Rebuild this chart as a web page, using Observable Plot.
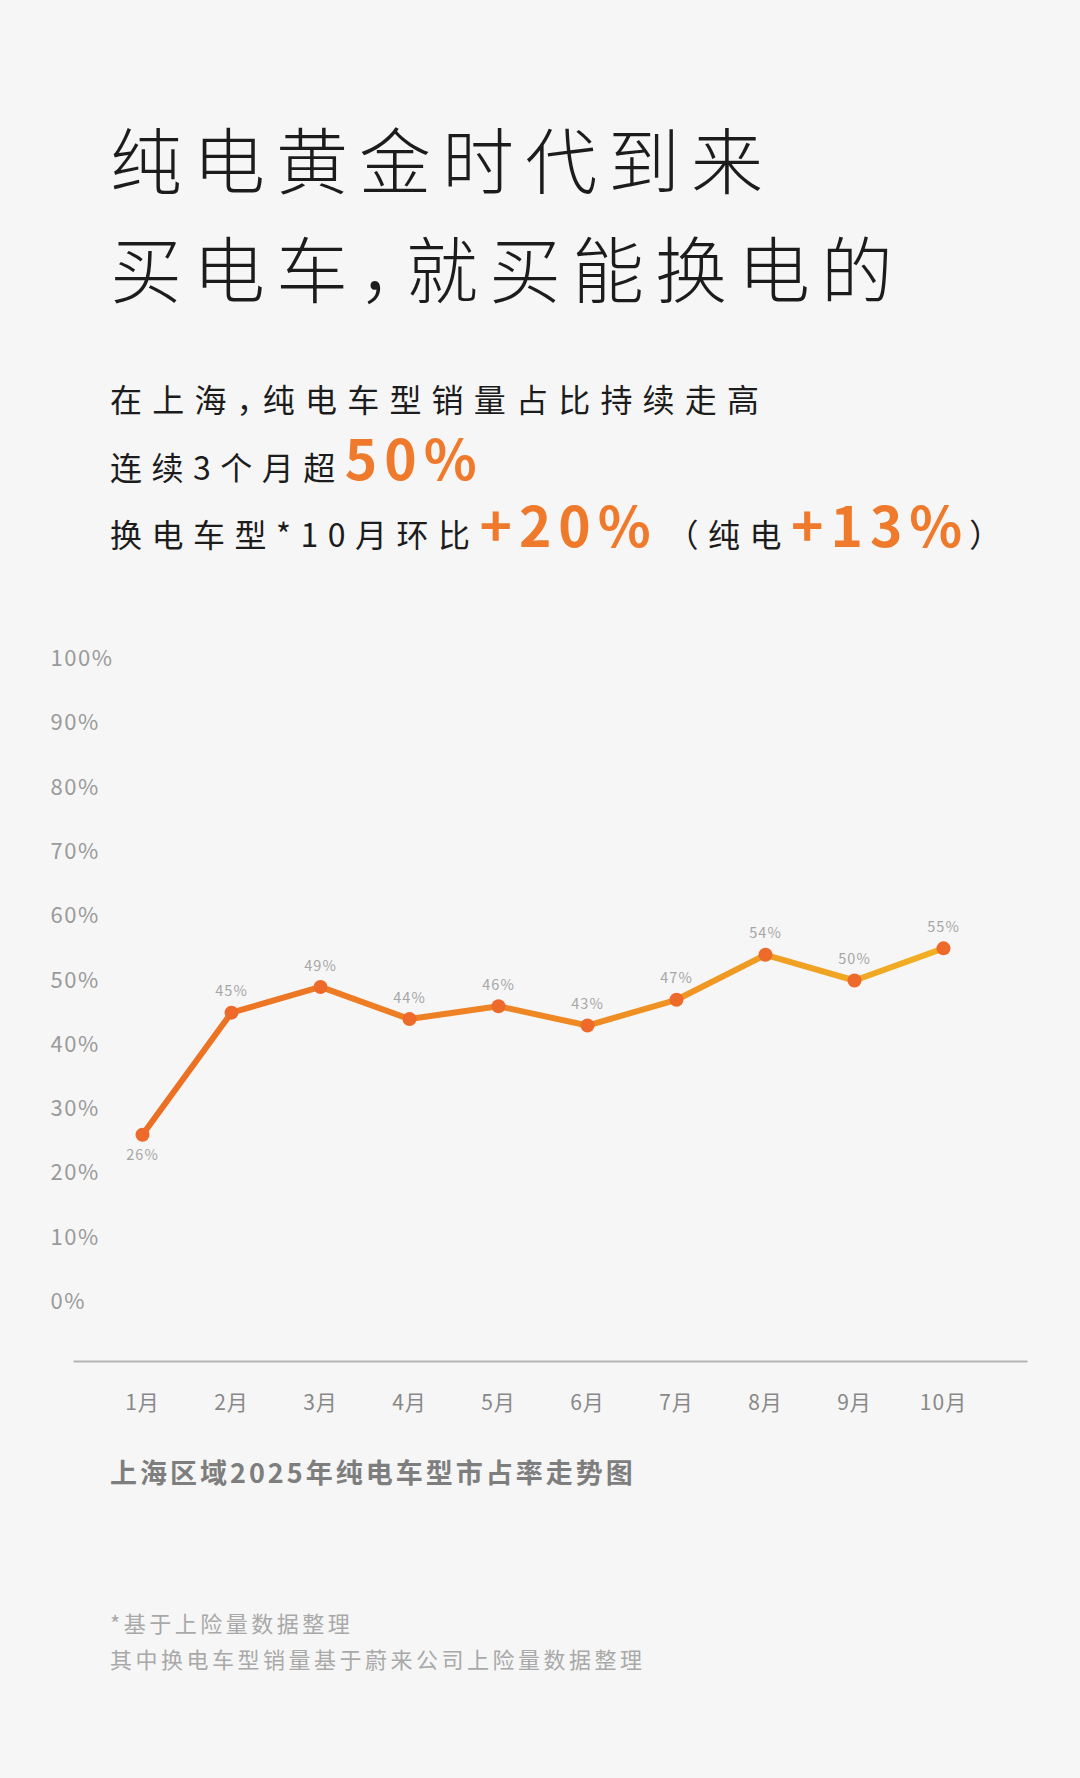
<!DOCTYPE html>
<html>
<head>
<meta charset="utf-8">
<script src="https://cdn.jsdelivr.net/npm/d3@7"></script>
<script src="https://cdn.jsdelivr.net/npm/@observablehq/plot@0.6"></script>
<style>
  html, body { margin: 0; padding: 0; background: #f6f6f6; }
  body { width: 1080px; height: 1778px; position: relative; overflow: hidden;
         font-family: "Noto Sans CJK SC", "Noto Sans", sans-serif; }
  .t { position: absolute; left: 110px; white-space: nowrap; font-feature-settings: "halt"; }
  .title { font-size: 72px; line-height: 72px; letter-spacing: 11px; color: #1c1c1c; font-weight: 300; }
  .sub { font-size: 32px; line-height: 32px; letter-spacing: 9.5px; color: #1c1c1c; }
  .sub.wide { letter-spacing: 10.2px; }
  .big { font-size: 55px; line-height: 0; font-weight: 700; color: #f07a2c; letter-spacing: 7px; }
  .paren { margin-left: 8px; }
  .cap { font-size: 27px; line-height: 27px; letter-spacing: 3px; color: #7e7e7e; font-weight: 700; }
  .note { font-size: 22px; line-height: 22px; letter-spacing: 3.5px; color: #a9a9a9; }
  #chart { position: absolute; left: 0; top: 620px; }
</style>
</head>
<body>
<div class="t title" style="top:121px">纯电黄金时代到来</div>
<div class="t title" style="top:230px">买电车，就买能换电的</div>
<div class="t sub wide" style="top:382px">在上海，纯电车型销量占比持续走高</div>
<div class="t sub" style="top:450px">连续3个月超<span class="big">50%</span></div>
<div class="t sub" style="top:517px">换电车型*10月环比<span class="big">+20%</span> <span class="paren">（</span>纯电<span class="big">+13%</span>）</div>
<div id="chart"></div>
<div class="t cap" style="top:1458px">上海区域2025年纯电车型市占率走势图</div>
<div class="t note" style="top:1611px">*基于上险量数据整理</div>
<div class="t note" style="top:1647px">其中换电车型销量基于蔚来公司上险量数据整理</div>
<script>
const months = ["1月","2月","3月","4月","5月","6月","7月","8月","9月","10月"];
const shares = [26, 45, 49, 44, 46, 43, 47, 54, 50, 55];
const yTicks = [0, 10, 20, 30, 40, 50, 60, 70, 80, 90, 100];
const labelsBelow = ["1月"];

const data = months.map((m, i) => ({month: m, share: shares[i]}));

const svg = Plot.plot({
  width: 1080,
  height: 820,
  marginLeft: 74,
  marginRight: 54,
  marginTop: 38.5,
  marginBottom: 79,
  style: {background: "transparent", fontFamily: "'Noto Sans CJK SC', 'Noto Sans', sans-serif", overflow: "visible"},
  x: {type: "point", domain: months, range: [139.5, 945], padding: 0, label: null},
  y: {domain: [0, 100], range: [681.5, 38.5], label: null},
  marks: [
    Plot.frame({anchor: "bottom", stroke: "#b3b3b3", strokeWidth: 2}),
    Plot.axisY({ticks: yTicks, tickFormat: d => d + "%", tickSize: 0, tickPadding: 0,
                textAnchor: "start", dx: -24, fontSize: 22, fill: "#9a9a9a", label: null}),
    Plot.axisX({tickSize: 0, tickPadding: 34, fontSize: 21, fill: "#888", label: null}),
    Plot.line(data, {x: "month", y: "share", stroke: "url(#lineGrad)", strokeWidth: 6,
                     strokeLinejoin: "round", strokeLinecap: "round"}),
    Plot.dot(data, {x: "month", y: "share", r: 7, fill: "#ee6a2a", stroke: "none"}),
    Plot.text(data.filter(d => !labelsBelow.includes(d.month)),
              {x: "month", y: "share", text: d => d.share + "%", dy: -21, fontSize: 14.5, fill: "#a6a6a6"}),
    Plot.text(data.filter(d => labelsBelow.includes(d.month)),
              {x: "month", y: "share", text: d => d.share + "%", dy: 21, fontSize: 14.5, fill: "#a6a6a6"})
  ]
});

const s = d3.select(svg);
const defs = s.insert("defs", ":first-child");
const g = defs.append("linearGradient").attr("id", "lineGrad")
  .attr("x1", "0%").attr("x2", "100%").attr("y1", "0%").attr("y2", "0%");
g.append("stop").attr("offset", "0%").attr("stop-color", "#ec6e24");
g.append("stop").attr("offset", "55%").attr("stop-color", "#ef8a24");
g.append("stop").attr("offset", "100%").attr("stop-color", "#f1b023");

s.selectAll("[aria-label='y-axis tick label'] text").attr("letter-spacing", "1.5");
s.selectAll("[aria-label='x-axis tick label'] text").attr("letter-spacing", "1");
s.selectAll("[aria-label='text'] text").attr("letter-spacing", "1");

document.getElementById("chart").appendChild(svg);
</script>
</body>
</html>
